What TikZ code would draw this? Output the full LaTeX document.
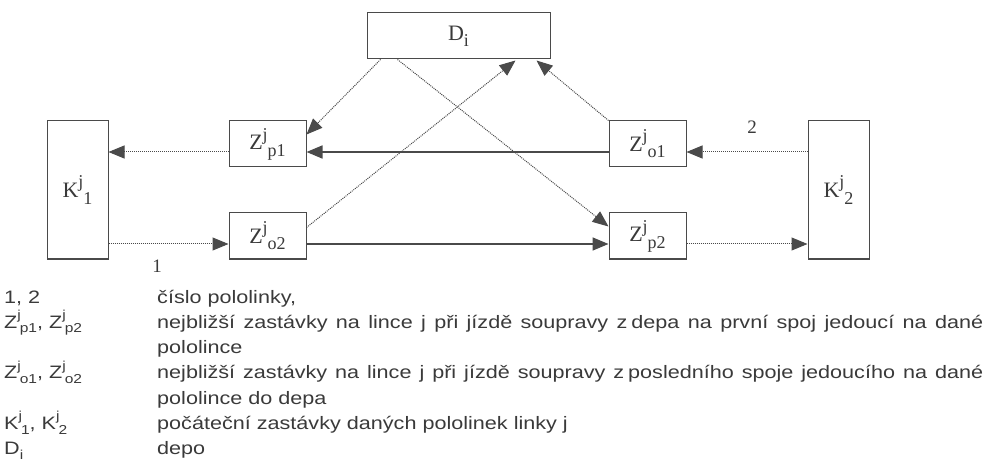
\documentclass[tikz,border=0pt]{standalone}
\usepackage{fontspec}
\usepackage{graphicx}
\setmainfont{Liberation Serif}
\newfontfamily\legfont[FakeStretch=1.2]{Liberation Sans}
\usetikzlibrary{arrows.meta,calc}
\definecolor{ln}{HTML}{4A4A4A}
\definecolor{tx}{HTML}{3A3A3A}
\newcommand{\ZZ}[3]{#1\raisebox{0.45em}{\scalebox{0.82}{#2}}\raisebox{-0.28em}{\scalebox{0.82}{#3}}}
\newcommand{\LZ}[3]{#1\raisebox{0.48em}{\scalebox{0.72}{#2}}\kern-1pt\raisebox{-0.25em}{\scalebox{0.72}{#3}}}
\tikzset{
  box/.style={draw=ln, line width=1pt, rectangle, inner sep=0pt, minimum width=77pt, minimum height=46pt, font=\fontsize{22}{22}\selectfont, text=tx},
  tall/.style={box, minimum width=61pt, minimum height=138pt},
  dotarrow/.style={draw=ln, line width=1pt, dash pattern=on 1pt off 1pt, -{Triangle[length=16pt,width=13pt]}},
  solidarrow/.style={draw=ln, line width=1.6pt, -{Triangle[length=16pt,width=13pt]}},
  lbl/.style={font=\fontsize{19}{19}\selectfont, text=tx, inner sep=0pt},
  leg/.style={font=\legfont\fontsize{18}{18}\selectfont, text=tx, inner sep=0pt, anchor=base west}
}
\begin{document}
\begin{tikzpicture}[x=1pt,y=-1pt]
\useasboundingbox (0,0) rectangle (987,462);
\fill[white] (0,0) rectangle (987,462);
% nodes
\node[box, minimum width=183pt] (D) at (458.5,36) {D\raisebox{-0.28em}{\scalebox{0.82}{i}}};
\node[tall] (K1) at (77.5,190) {\ZZ{K}{j}{1}};
\node[tall] (K2) at (838.5,190) {\ZZ{K}{j}{2}};
\node[box] (Zp1) at (267.5,144) {\ZZ{Z}{j}{p1}};
\node[box] (Zo2) at (267.5,236) {\ZZ{Z}{j}{o2}};
\node[box] (Zo1) at (647.5,144) {\ZZ{Z}{j}{o1}};
\node[box] (Zp2) at (647.5,236) {\ZZ{Z}{j}{p2}};
% horizontal connectors
\draw[dotarrow] ($(Zp1.west)+(0,8)$) -- ($(K1.east)+(0,-38)$);
\draw[solidarrow] ($(Zo1.west)+(0,8)$) -- ($(Zp1.east)+(0,8)$);
\draw[dotarrow] ($(K2.west)+(0,-38)$) -- ($(Zo1.east)+(0,8)$);
\draw[dotarrow] ($(K1.east)+(0,54)$) -- ($(Zo2.west)+(0,8)$);
\draw[solidarrow] ($(Zo2.east)+(0,8)$) -- ($(Zp2.west)+(0,8)$);
\draw[dotarrow] ($(Zp2.east)+(0,8)$) -- ($(K2.west)+(0,54)$);
% diagonal connectors
\draw[dotarrow] ($(D.south west)+(14,0)$) -- ($(Zp1.north east)+(0,14)$);
\draw[dotarrow] ($(D.south west)+(31,0)$) -- ($(Zp2.north west)+(0,14)$);
\draw[dotarrow] ($(Zo2.north east)+(0,15)$) -- ($(D.south west)+(149,1)$);
\draw[dotarrow] (Zo1.north west) -- ($(D.south west)+(170,1)$);
% labels
\node[lbl] (n2) at (752,127) {2};
\node[lbl] (n1) at (157,266) {1};
% legend
\node[leg] (l1a) at (4,303) {1, 2};
\node[leg] (l1b) at (157,303) {číslo pololinky,};
\node[leg] (l2a) at (4,328.3) {\LZ{Z}{j}{p1}, \LZ{Z}{j}{p2}};
\node[leg] (l2b) at (157,328.3) {\makebox[826pt][s]{nejbližší zastávky na lince j při jízdě soupravy z\hspace{4pt}depa na první spoj jedoucí na dané}};
\node[leg] (l3b) at (157,353.6) {pololince};
\node[leg] (l4a) at (4,378.9) {\LZ{Z}{j}{o1}, \LZ{Z}{j}{o2}};
\node[leg] (l4b) at (157,378.9) {\makebox[826pt][s]{nejbližší zastávky na lince j při jízdě soupravy z\hspace{4pt}posledního spoje jedoucího na dané}};
\node[leg] (l5b) at (157,404.2) {pololince do depa};
\node[leg] (l6a) at (4,429.5) {\LZ{K}{j}{1}, \LZ{K}{j}{2}};
\node[leg] (l6b) at (157,429.5) {počáteční zastávky daných pololinek linky j};
\node[leg] (l7a) at (4,454.8) {D\raisebox{-0.25em}{\scalebox{0.72}{i}}};
\node[leg] (l7b) at (157,454.8) {depo};
\end{tikzpicture}
\end{document}
